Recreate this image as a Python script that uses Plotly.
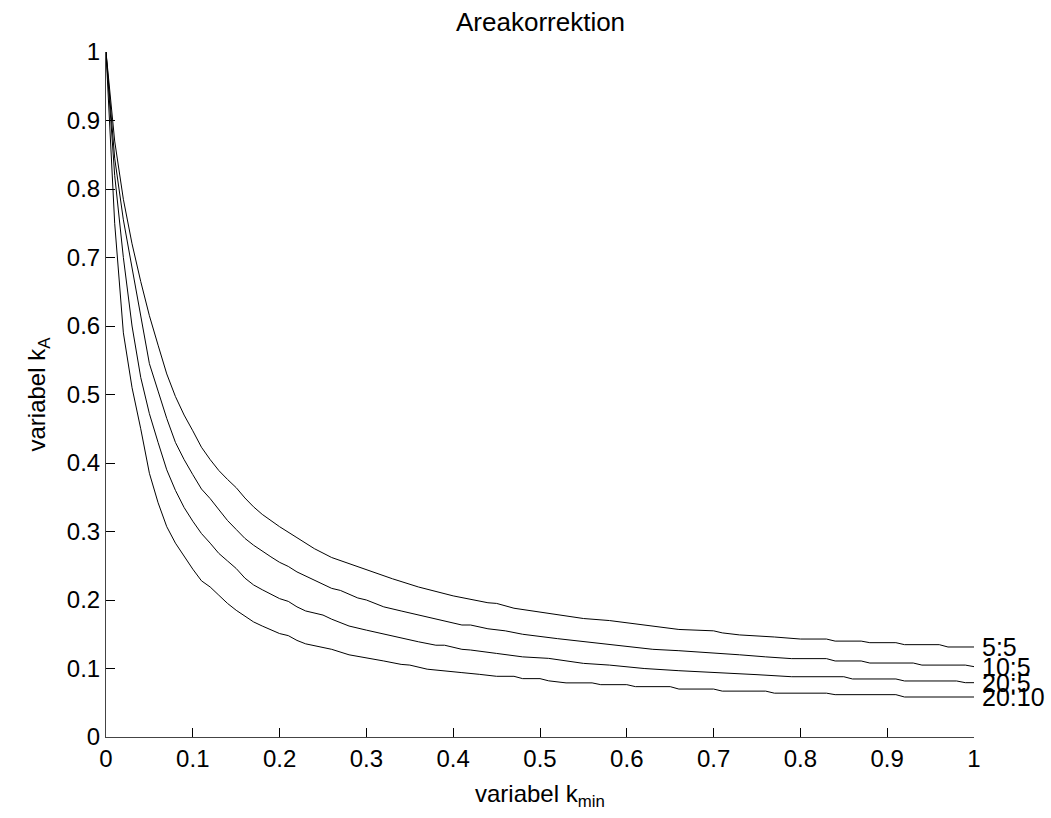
import plotly.graph_objects as go

# ---- data (k_min -> k_A) ----
x_5_5 = [0, 0.01, 0.02, 0.03, 0.04, 0.05, 0.06, 0.07, 0.08, 0.09, 0.10, 0.11, 0.12, 0.13, 0.14, 0.15,
         0.16, 0.17, 0.18, 0.19, 0.20, 0.22, 0.24, 0.26, 0.28, 0.30, 0.33, 0.36, 0.40, 0.44, 0.45,
         0.47, 0.50, 0.52, 0.55, 0.58, 0.60, 0.62, 0.65, 0.66, 0.70, 0.71, 0.73, 0.76, 0.77, 0.80,
         0.83, 0.84, 0.87, 0.88, 0.91, 0.92, 0.96, 0.97, 1.00]
k_5_5 = [1.0, 0.87, 0.785, 0.72, 0.665, 0.615, 0.572, 0.530, 0.497, 0.470, 0.447, 0.423, 0.405, 0.389,
         0.376, 0.364, 0.349, 0.336, 0.325, 0.316, 0.307, 0.291, 0.275, 0.262, 0.253, 0.245, 0.231,
         0.219, 0.206, 0.196, 0.195, 0.188, 0.182, 0.178, 0.173, 0.170, 0.167, 0.163, 0.159, 0.157,
         0.155, 0.152, 0.149, 0.147, 0.146, 0.143, 0.143, 0.140, 0.140, 0.1377, 0.1377, 0.1348,
         0.1348, 0.1314, 0.1314]

x_10_5 = [0, 0.01, 0.02, 0.03, 0.04, 0.05, 0.06, 0.07, 0.08, 0.09, 0.10, 0.11, 0.12, 0.13, 0.14, 0.15,
          0.16, 0.17, 0.18, 0.19, 0.20, 0.21, 0.22, 0.24, 0.26, 0.27, 0.29, 0.30, 0.32, 0.34, 0.36,
          0.38, 0.41, 0.42, 0.44, 0.46, 0.48, 0.52, 0.56, 0.60, 0.63, 0.66, 0.70, 0.73, 0.76, 0.79,
          0.83, 0.84, 0.87, 0.88, 0.93, 0.94, 0.99, 1.00]
k_10_5 = [1.0, 0.845, 0.755, 0.685, 0.61, 0.545, 0.505, 0.465, 0.43, 0.405, 0.383, 0.362, 0.348, 0.332,
          0.316, 0.303, 0.290, 0.280, 0.271, 0.263, 0.255, 0.249, 0.241, 0.229, 0.217, 0.214, 0.203,
          0.200, 0.190, 0.184, 0.178, 0.173, 0.1635, 0.1635, 0.158, 0.155, 0.150, 0.1436, 0.1377,
          0.132, 0.128, 0.126, 0.123, 0.120, 0.117, 0.1144, 0.1144, 0.111, 0.111, 0.108, 0.108,
          0.105, 0.105, 0.1027]

x_20_5 = [0, 0.01, 0.02, 0.03, 0.04, 0.05, 0.06, 0.07, 0.08, 0.09, 0.10, 0.11, 0.12, 0.13, 0.14, 0.15,
          0.16, 0.17, 0.18, 0.19, 0.20, 0.21, 0.22, 0.23, 0.25, 0.26, 0.28, 0.30, 0.33, 0.36, 0.38,
          0.39, 0.41, 0.42, 0.45, 0.48, 0.51, 0.55, 0.58, 0.62, 0.66, 0.71, 0.75, 0.79, 0.85, 0.86,
          0.91, 0.92, 0.98, 0.99, 1.00]
k_20_5 = [1.0, 0.82, 0.70, 0.60, 0.525, 0.472, 0.43, 0.39, 0.36, 0.335, 0.315, 0.297, 0.283, 0.268,
          0.257, 0.246, 0.232, 0.222, 0.215, 0.208, 0.202, 0.198, 0.190, 0.184, 0.178, 0.172, 0.162,
          0.156, 0.147, 0.139, 0.134, 0.134, 0.128, 0.127, 0.122, 0.117, 0.1148, 0.1075, 0.105,
          0.100, 0.0968, 0.094, 0.091, 0.088, 0.088, 0.0847, 0.0847, 0.0818, 0.0818, 0.0793, 0.0793]

x_20_10 = [0, 0.01, 0.02, 0.03, 0.04, 0.05, 0.06, 0.07, 0.08, 0.09, 0.10, 0.11, 0.12, 0.13, 0.14, 0.15,
           0.16, 0.17, 0.18, 0.19, 0.20, 0.21, 0.22, 0.23, 0.24, 0.26, 0.28, 0.30, 0.32, 0.34, 0.35,
           0.37, 0.40, 0.41, 0.43, 0.45, 0.47, 0.48, 0.50, 0.51, 0.53, 0.56, 0.57, 0.60, 0.61, 0.65,
           0.66, 0.70, 0.71, 0.76, 0.77, 0.83, 0.84, 0.91, 0.92, 1.00]
k_20_10 = [1.0, 0.75, 0.59, 0.51, 0.45, 0.385, 0.342, 0.307, 0.283, 0.264, 0.245, 0.228, 0.219, 0.207,
           0.195, 0.185, 0.176, 0.168, 0.162, 0.156, 0.151, 0.148, 0.141, 0.136, 0.133, 0.128, 0.120,
           0.116, 0.111, 0.106, 0.105, 0.099, 0.096, 0.094, 0.0915, 0.0886, 0.0886, 0.0852, 0.0852,
           0.082, 0.079, 0.079, 0.0764, 0.0764, 0.0735, 0.0735, 0.070, 0.070, 0.067, 0.067, 0.064,
           0.064, 0.0618, 0.0618, 0.0584, 0.0584]

series_names = ["5:5", "10:5", "20:5", "20:10"]
series_x = [x_5_5, x_10_5, x_20_5, x_20_10]
series_k = [k_5_5, k_10_5, k_20_5, k_20_10]

tick_vals = [0, 0.1, 0.2, 0.3, 0.4, 0.5, 0.6, 0.7, 0.8, 0.9, 1]
tick_text = ["0", "0.1", "0.2", "0.3", "0.4", "0.5", "0.6", "0.7", "0.8", "0.9", "1"]

FONT = "Arial, Liberation Sans, Helvetica, sans-serif"

fig = go.Figure()
for name, xs, ks in zip(series_names, series_x, series_k):
    fig.add_trace(go.Scatter(x=xs, y=ks, mode="lines", name=name,
                             line=dict(color="black", width=1), showlegend=False))
    fig.add_annotation(x=xs[-1], y=ks[-1], xref="x", yref="y", text=name,
                       showarrow=False, xanchor="left", yanchor="middle", xshift=6,
                       font=dict(family=FONT, size=25, color="black"))

axis_common = dict(range=[0, 1], tickmode="array", tickvals=tick_vals, ticktext=tick_text,
                   ticks="inside", ticklen=9, tickwidth=1, tickcolor="black",
                   showline=True, linecolor="#444", linewidth=1, mirror=False,
                   showgrid=False, zeroline=False,
                   tickfont=dict(family=FONT, size=24, color="black"))

fig.update_xaxes(**axis_common)
fig.update_yaxes(**axis_common)

fig.add_annotation(x=0.5, y=1, xref="paper", yref="paper", yshift=30, text="Areakorrektion",
                   showarrow=False, xanchor="center", yanchor="middle",
                   font=dict(family=FONT, size=26, color="black"))
fig.add_annotation(x=0.5, y=0, xref="paper", yref="paper", yshift=-58,
                   text="variabel k<sub>min</sub>", showarrow=False,
                   xanchor="center", yanchor="middle",
                   font=dict(family=FONT, size=24, color="black"))
fig.add_annotation(x=0, y=0.5, xref="paper", yref="paper", xshift=-68,
                   text="variabel k<sub>A</sub>", showarrow=False, textangle=-90,
                   xanchor="center", yanchor="middle",
                   font=dict(family=FONT, size=24, color="black"))

fig.update_layout(width=1051, height=818, margin=dict(l=106, r=77, t=52, b=81),
                  paper_bgcolor="white", plot_bgcolor="white")

fig.write_html("out.html")
